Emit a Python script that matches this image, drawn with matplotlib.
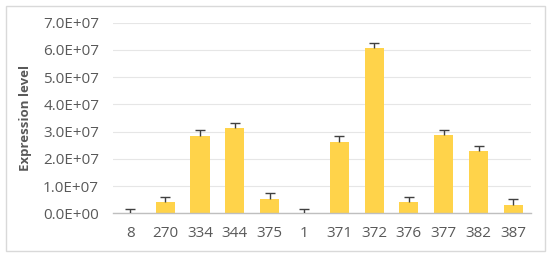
import matplotlib
matplotlib.use('Agg')
import matplotlib.pyplot as plt
from matplotlib.patches import Rectangle
from matplotlib.ticker import FuncFormatter, MultipleLocator

labels = ['8', '270', '334', '344', '375', '1', '371', '372', '376', '377', '382', '387']
values = [0.0, 0.42e7, 2.84e7, 3.14e7, 0.51e7, 0.0, 2.61e7, 6.05e7, 0.42e7, 2.88e7, 2.29e7, 0.31e7]
errors = [0.17e7, 0.19e7, 0.20e7, 0.19e7, 0.22e7, 0.16e7, 0.21e7, 0.20e7, 0.19e7, 0.19e7, 0.19e7, 0.20e7]

plt.rcParams['font.family'] = ['Open Sans', 'DejaVu Sans']

fig = plt.figure(figsize=(5.5, 2.57), dpi=100)
ax = fig.add_axes([0.2055, 0.170, 0.7595, 0.742])

# outer frame
fig.patches.append(Rectangle((6 / 550, 6 / 257), 539 / 550, 245 / 257,
                             transform=fig.transFigure, fill=False,
                             edgecolor='#d9d9d9', linewidth=1))

x = list(range(len(labels)))
tops = [v + e for v, e in zip(values, errors)]
ax.bar(x, values, width=0.55, color='#ffd34a', zorder=2)
# upper-only error bars
ax.vlines(x, values, tops, color='#404040', linewidth=1.0, zorder=3)
ax.scatter(x, tops, marker='_', s=45, color='#404040', linewidths=1.0, zorder=3)

ax.set_xlim(-0.5, len(labels) - 0.5)
ax.set_ylim(0, 7e7)
ax.yaxis.set_major_locator(MultipleLocator(1e7))
ax.yaxis.set_major_formatter(FuncFormatter(lambda v, p: '%.1E' % v))
ax.set_xticks(x)
ax.set_xticklabels(labels)

ax.grid(axis='y', color='#e6e6e6', linewidth=0.8, zorder=0)
ax.set_axisbelow(True)
for s in ['top', 'right', 'left']:
    ax.spines[s].set_visible(False)
ax.spines['bottom'].set_color('#bfbfbf')
ax.spines['bottom'].set_linewidth(1)
ax.tick_params(length=0, colors='#595959', labelsize=11)
ax.tick_params(axis='y', pad=10)
ax.tick_params(axis='x', pad=9)

ax.set_ylabel('Expression level', fontsize=9.5, fontweight='bold', color='#595959', labelpad=8)

fig.savefig('out.png', dpi=100)
